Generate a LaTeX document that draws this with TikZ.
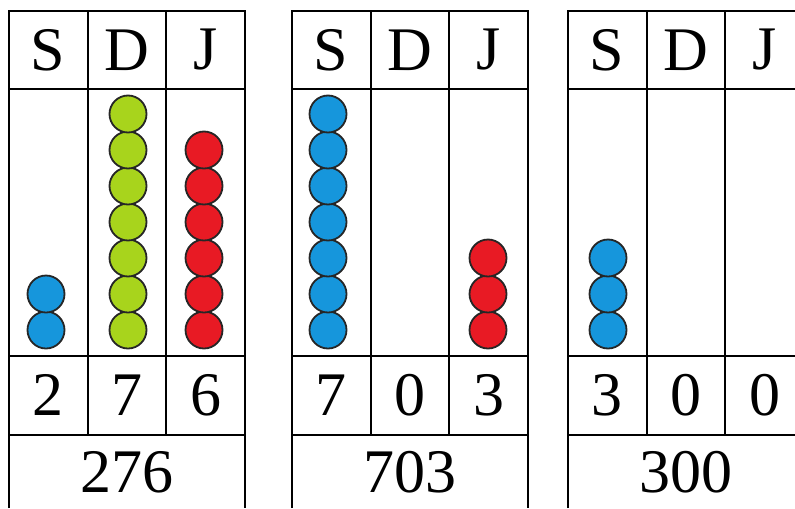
\documentclass[tikz,border=0pt]{standalone}
\usepackage{fontspec}
\setmainfont{Liberation Serif}
\definecolor{beadblue}{RGB}{22,150,220}
\definecolor{beadgreen}{RGB}{168,212,28}
\definecolor{beadred}{RGB}{232,26,36}

\begin{document}
\begin{tikzpicture}[x=0.5pt,y=-0.5pt,
 grid/.style={line width=1pt},
 bead/.style={circle,draw=black!85,line width=0.9pt,minimum size=18.5pt,inner sep=0pt},
 lbl/.style={font=\fontsize{31}{36}\selectfont,inner sep=0pt}]
\useasboundingbox (0,0) rectangle (795,508);
\clip (0,0) rectangle (795,508);
% three tables: S D J, beads, digits, number
\foreach \x/\t/\h/\d/\j in {9/a/2/7/6,292/b/7/0/3,568/c/3/0/0}{
 \draw[grid] (\x,508) -- (\x,11) -- (\x+236,11) -- (\x+236,508);
 \draw[grid] (\x,89) -- ++(236,0) (\x,356) -- ++(236,0) (\x,435) -- ++(236,0);
 \draw[grid] (\x+79,11) -- (\x+79,435) (\x+157,11) -- (\x+157,435);
 \node[lbl] (S\t) at (\x+39,50) {S};
 \node[lbl] (D\t) at (\x+118,50) {D};
 \node[lbl] (J\t) at (\x+197,50) {J};
 \node[lbl] (h\t) at (\x+39,395) {\h};
 \node[lbl] (d\t) at (\x+118,395) {\d};
 \node[lbl] (j\t) at (\x+197,395) {\j};
 \node[lbl] (n\t) at (\x+118,472) {\h\d\j};
}
% beads
\foreach \i in {1,2} \node[bead,fill=beadblue] (bSa\i) at (46,{366-36*\i}) {};
\foreach \i in {1,...,7} \node[bead,fill=beadgreen] (bDa\i) at (128,{366-36*\i}) {};
\foreach \i in {1,...,6} \node[bead,fill=beadred] (bJa\i) at (204,{366-36*\i}) {};
\foreach \i in {1,...,7} \node[bead,fill=beadblue] (bSb\i) at (328,{366-36*\i}) {};
\foreach \i in {1,2,3} \node[bead,fill=beadred] (bJb\i) at (488,{366-36*\i}) {};
\foreach \i in {1,2,3} \node[bead,fill=beadblue] (bSc\i) at (608,{366-36*\i}) {};
\end{tikzpicture}
\end{document}
